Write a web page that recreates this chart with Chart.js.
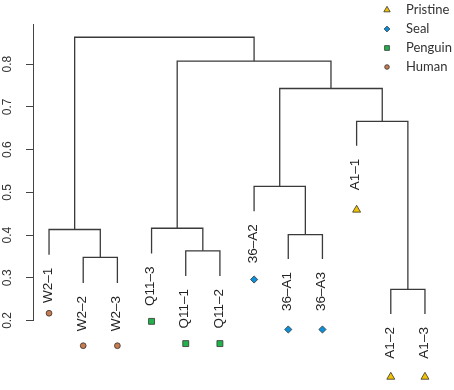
<!DOCTYPE html>
<html>
<head>
<meta charset="utf-8">
<script src="https://cdn.jsdelivr.net/npm/chart.js@4/dist/chart.umd.min.js"></script>
<style>
  html, body { margin: 0; padding: 0; background: #fff; }
  #wrap { width: 454px; height: 390px; position: relative; }
</style>
</head>
<body>
<div id="wrap"><canvas id="dendro"></canvas></div>
<script>
'use strict';

// --- data ---
const LEAVES = ['W2\u20131', 'W2\u20132', 'W2\u20133', 'Q11\u20133', 'Q11\u20131', 'Q11\u20132',
  '36\u2013A2', '36\u2013A1', '36\u2013A3', 'A1\u20131', 'A1\u20132', 'A1\u20133'];
const GROUPS = ['Human', 'Human', 'Human', 'Penguin', 'Penguin', 'Penguin',
  'Seal', 'Seal', 'Seal', 'Pristine', 'Pristine', 'Pristine'];
// lower end of each leaf's branch
const LEAF_ENDS = [0.354, 0.288, 0.288, 0.357, 0.304, 0.304, 0.456, 0.344, 0.344, 0.609, 0.215, 0.215];
// height of the coloured marker under each label
const MARKER_Y = [0.217, 0.141, 0.141, 0.198, 0.146, 0.146, 0.296, 0.179, 0.179, 0.459, 0.068, 0.068];
// merges: negative = leaf (-(index+1)), positive = earlier merge (1-based)
const MERGE_LEFT = [-2, -1, -5, -4, -8, -7, -11, -10, 6, 4, 2];
const MERGE_RIGHT = [-3, 1, -6, 3, -9, 5, -12, 7, 8, 9, 10];
const MERGE_HEIGHT = [0.348, 0.413, 0.363, 0.416, 0.401, 0.514, 0.273, 0.666, 0.743, 0.807, 0.863];
const LEGEND_ORDER = ['Pristine', 'Seal', 'Penguin', 'Human'];
const Y_TICKS = [0.2, 0.3, 0.4, 0.5, 0.6, 0.7, 0.8];

const GROUP_STYLE = {
  Pristine: { color: '#f2c200', style: 'triangle', r: 4.6 },
  Seal: { color: '#0a8fd8', style: 'rectRot', r: 3.6 },
  Penguin: { color: '#22b24c', style: 'rect', r: 4.2 },
  Human: { color: '#c87b4f', style: 'circle', r: 2.9 },
};

// position and height of a node (leaf or merge)
function node(ref) {
  if (ref < 0) return { x: -ref - 1, y: LEAF_ENDS[-ref - 1] };
  const i = ref - 1;
  const a = node(MERGE_LEFT[i]);
  const b = node(MERGE_RIGHT[i]);
  return { x: (a.x + b.x) / 2, y: MERGE_HEIGHT[i] };
}

const LINE_COLOR = '#3a3a3a';
const AXIS_COLOR = '#444';
const linkSets = MERGE_HEIGHT.map((h, i) => {
  const a = node(MERGE_LEFT[i]);
  const b = node(MERGE_RIGHT[i]);
  return {
    type: 'scatter',
    data: [{ x: a.x, y: a.y }, { x: a.x, y: h }, { x: b.x, y: h }, { x: b.x, y: b.y }],
    showLine: true,
    borderColor: LINE_COLOR,
    borderWidth: 1.3,
    pointRadius: 0,
    tension: 0,
  };
});

const markerSet = {
  type: 'scatter',
  data: LEAVES.map((_, i) => ({ x: i, y: MARKER_Y[i] })),
  pointStyle: GROUPS.map(g => GROUP_STYLE[g].style),
  pointRadius: GROUPS.map(g => GROUP_STYLE[g].r),
  backgroundColor: GROUPS.map(g => GROUP_STYLE[g].color),
  borderColor: '#333',
  borderWidth: 0.8,
  clip: false,
};

// leaf labels, y axis line + tick labels, legend
const textPlugin = {
  id: 'dendroText',
  afterDatasetsDraw(chart) {
    const { ctx, scales: { x, y } } = chart;
    ctx.save();

    // axis line only spans from the lowest tick up to the top of the plot
    ctx.strokeStyle = AXIS_COLOR;
    ctx.lineWidth = 1;
    ctx.beginPath();
    ctx.moveTo(y.right - 0.5, y.getPixelForValue(Y_TICKS[0]) + 0.5);
    ctx.lineTo(y.right - 0.5, y.top);
    ctx.stroke();

    ctx.fillStyle = '#222';
    ctx.font = '13.5px "Liberation Sans", Arial, sans-serif';
    ctx.textAlign = 'right';
    ctx.textBaseline = 'middle';
    LEAVES.forEach((lab, i) => {
      ctx.save();
      ctx.translate(x.getPixelForValue(i) - 1, y.getPixelForValue(LEAF_ENDS[i]) + 13);
      ctx.rotate(-Math.PI / 2);
      ctx.fillText(lab, 0, 0);
      ctx.restore();
    });

    ctx.font = '12px "Liberation Sans", Arial, sans-serif';
    ctx.fillStyle = '#333';
    ctx.textAlign = 'center';
    Y_TICKS.forEach(v => {
      ctx.save();
      ctx.translate(8, y.getPixelForValue(v));
      ctx.rotate(-Math.PI / 2);
      ctx.fillText(v.toFixed(1), 0, 0);
      ctx.restore();
    });

    // legend, top right
    ctx.font = '13px Lato, "Open Sans", sans-serif';
    ctx.textAlign = 'left';
    LEGEND_ORDER.forEach((g, i) => {
      const s = GROUP_STYLE[g];
      const cy = 10 + i * 19;
      ctx.fillStyle = s.color;
      ctx.strokeStyle = '#333';
      ctx.lineWidth = 0.8;
      Chart.helpers.drawPoint(ctx, { pointStyle: s.style, radius: s.r * 0.8, rotation: 0, borderWidth: 0.8 }, 387, cy);
      ctx.fillStyle = '#333';
      ctx.fillText(g, 406, cy);
    });
    ctx.restore();
  },
};

new Chart(document.getElementById('dendro').getContext('2d'), {
  type: 'scatter',
  data: { datasets: [...linkSets, markerSet] },
  options: {
    responsive: true,
    maintainAspectRatio: false,
    animation: false,
    events: [],
    layout: { padding: { top: 24, bottom: 0, left: 26, right: 14 } },
    plugins: { legend: { display: false }, tooltip: { enabled: false } },
    scales: {
      x: { type: 'linear', display: false, min: -0.44, max: 11.44 },
      y: {
        type: 'linear',
        // chart area runs to the bottom so markers under the labels still draw
        min: 0.05,
        max: 0.894,
        ticks: { display: false, stepSize: 0.1, includeBounds: false },
        afterBuildTicks: (scale) => {
          scale.ticks = Y_TICKS.map(v => ({ value: v }));
        },
        grid: { drawOnChartArea: false, drawTicks: true, tickLength: 8, color: AXIS_COLOR, lineWidth: 1 },
        border: { display: false },
      },
    },
  },
  plugins: [textPlugin],
});
</script>
</body>
</html>
